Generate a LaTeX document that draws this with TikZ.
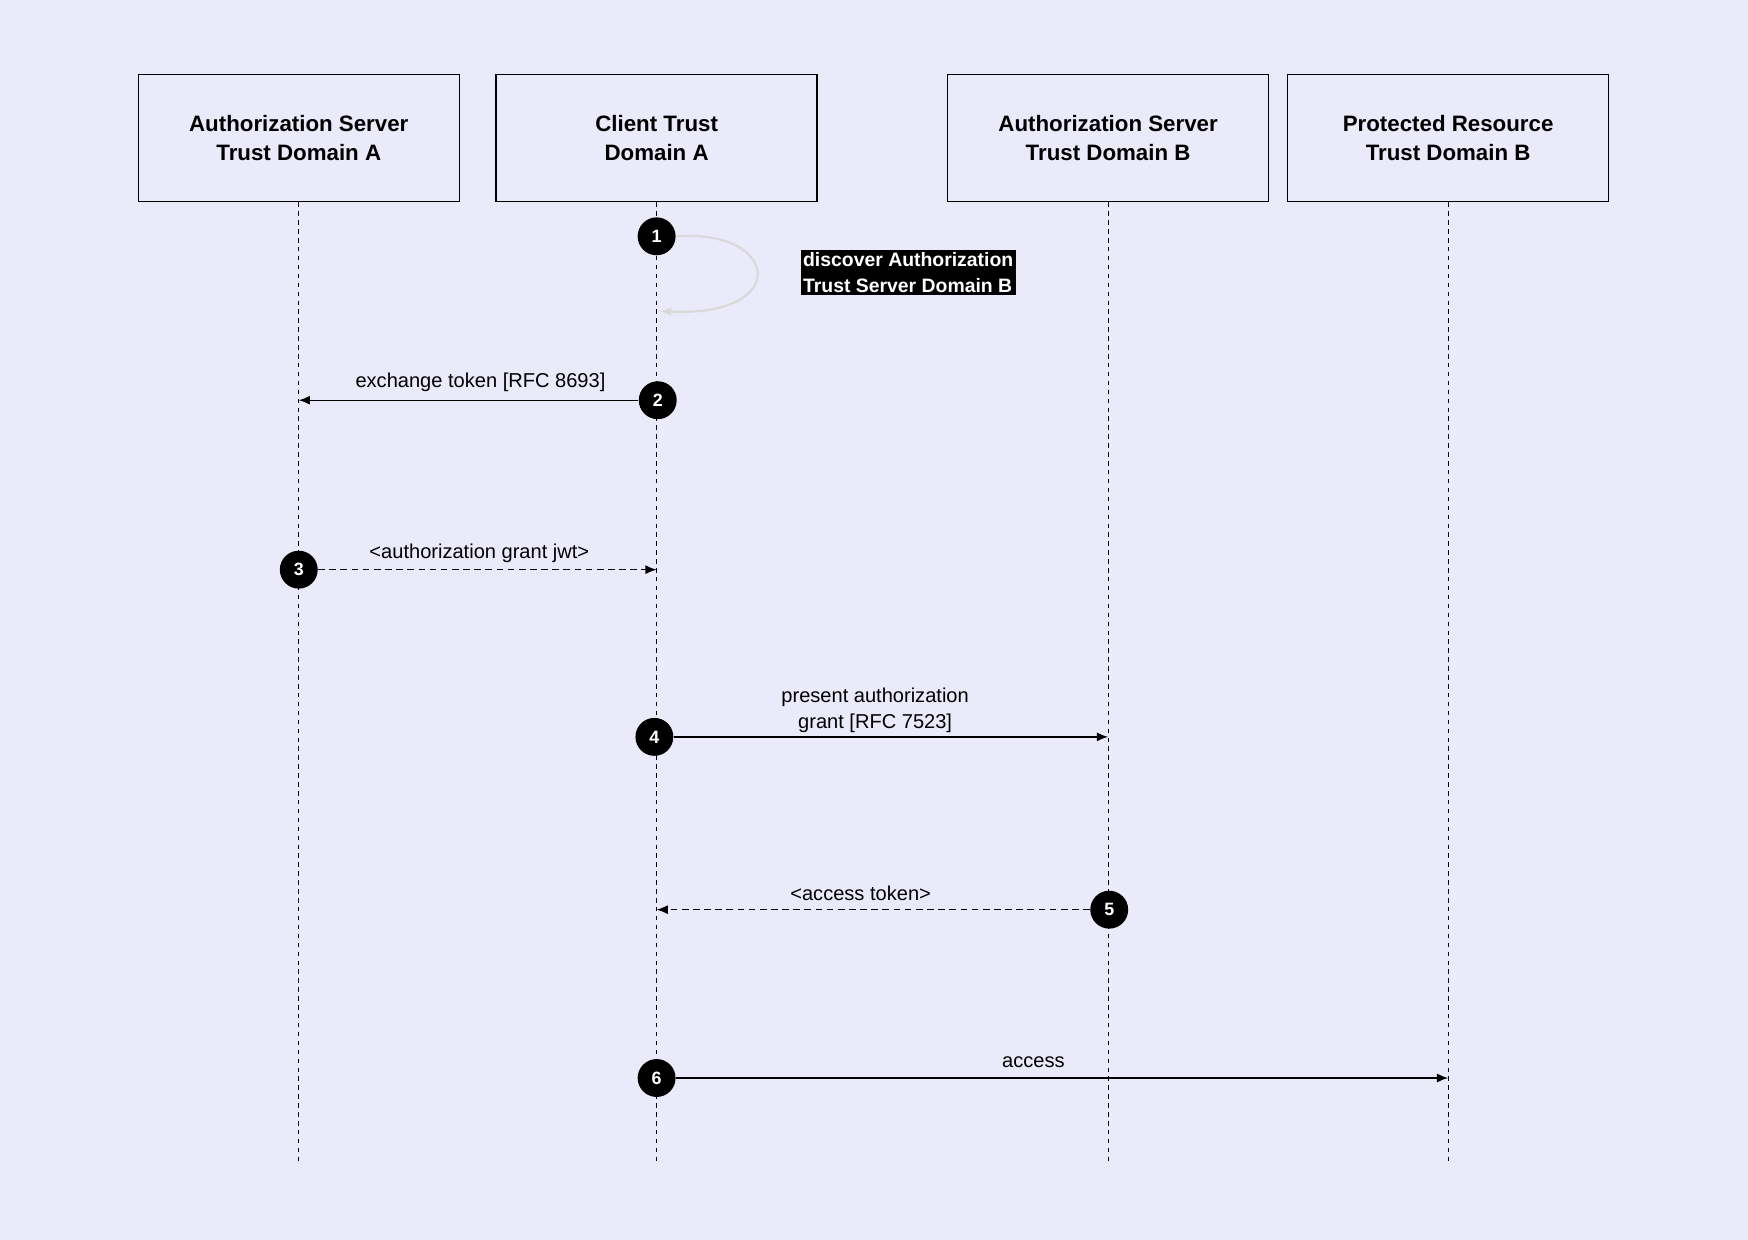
\documentclass[tikz,border=0pt]{standalone}
\usepackage{fontspec}
\setmainfont{Liberation Sans}
\usetikzlibrary{arrows.meta}
\definecolor{bg}{HTML}{EAEAFA}
\begin{document}
\begin{tikzpicture}[x=0.5pt,y=-0.5pt,
  box/.style={draw,line width=0.6pt,minimum width=144pt,minimum height=57pt,inner sep=0pt,align=center,font=\fontsize{10}{13}\selectfont\bfseries},
  life/.style={dash pattern=on 2pt off 2pt,line width=0.5pt},
  num/.style={circle,fill=black,text=white,inner sep=0pt,minimum size=17pt,font=\fontsize{8}{8}\selectfont\bfseries},
  msg/.style={line width=0.6pt,-{Latex[length=5pt,width=4pt]}},
  ret/.style={msg,dash pattern=on 3pt off 2pt},
  lbl/.style={font=\fontsize{9}{11.5}\selectfont,align=center}]
\fill[bg] (0,0) rectangle (1568,1112);
\useasboundingbox (0,0) rectangle (1568,1112);
\node[box] (A) at (268,124) {Authorization Server\\Trust Domain A};
\node[box] (C) at (589,124) {Client Trust\\Domain A};
\node[box] (B) at (994,124) {Authorization Server\\Trust Domain B};
\node[box] (P) at (1299,124) {Protected Resource\\Trust Domain B};
\coordinate (Ae) at (268,1045);\coordinate (Ce) at (589,1045);
\coordinate (Be) at (994,1045);\coordinate (Pe) at (1299,1045);
\draw[life] (A) -- (Ae); \draw[life] (C) -- (Ce);
\draw[life] (B) -- (Be); \draw[life] (P) -- (Pe);
% 1
\node[num] (n1) at (589,212) {1};
\coordinate (l1) at (592,279);
\draw[msg,draw=black!15,line width=1pt] (n1.east) .. controls (700,205) and (710,285) .. (l1);
\node[fill=black,text=white,inner sep=1pt,align=left,anchor=north west,font=\fontsize{8.7}{11.5}\selectfont\bfseries] (t1) at (718,224) {discover Authorization\\Trust Server Domain B};
% 2
\node[num] (n2) at (590,359) {2};
\draw[msg] (n2) -- (n2 -| A);
\node[lbl] at (431,343) {exchange token [RFC 8693]};
% 3
\node[num] (n3) at (268,511) {3};
\draw[ret] (n3) -- (n3 -| C);
\node[lbl] at (430,496) {<authorization grant jwt>};
% 4
\node[num] (n4) at (587,661) {4};
\draw[msg] (n4) -- (n4 -| B);
\node[lbl] at (785,637) {present authorization\\grant [RFC 7523]};
% 5
\node[num] (n5) at (995,816) {5};
\draw[ret] (n5) -- (n5 -| C);
\node[lbl] at (772,801) {<access token>};
% 6
\node[num] (n6) at (589,967) {6};
\draw[msg] (n6) -- (n6 -| P);
\node[lbl] at (927,953) {access};
\end{tikzpicture}
\end{document}
